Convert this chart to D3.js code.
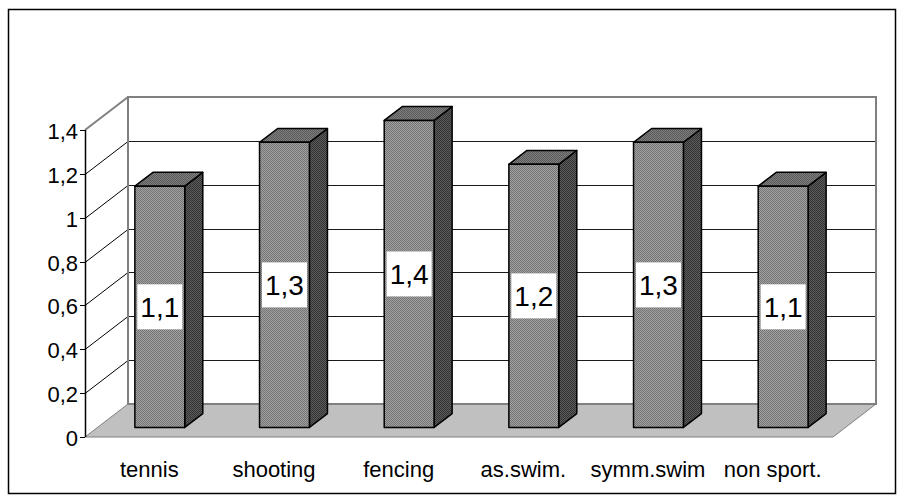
<!DOCTYPE html>
<html>
<head>
<meta charset="utf-8">
<script src="https://cdn.jsdelivr.net/npm/d3@7"></script>
<style>
  html, body { margin: 0; padding: 0; background: #fff; }
  svg { display: block; }
  text { font-family: Arial, "Liberation Sans", sans-serif; fill: #000; }
</style>
</head>
<body>
<svg id="chart" width="907" height="501"></svg>
<script>
// Chart data
const categories = ["tennis", "shooting", "fencing", "as.swim.", "symm.swim", "non sport."];
const values = [1.1, 1.3, 1.4, 1.2, 1.3, 1.1];
const yTicks = [0, 0.2, 0.4, 0.6, 0.8, 1, 1.2, 1.4];
const yTickLabels = ["0", "0,2", "0,4", "0,6", "0,8", "1", "1,2", "1,4"];
const valueLabels = ["1,1", "1,3", "1,4", "1,2", "1,3", "1,1"];

const svg = d3.select("#chart");

// Front plane of the 3D box and the depth offset toward the back wall
const front = { left: 85, right: 833, bottom: 437, top: 130 };
const DX = 43, DY = -33;
const barDepth0 = 0.29, barDepth1 = 0.71;

const y = d3.scaleLinear().domain([0, 1.4]).range([front.bottom, front.top]);
const x = d3.scaleBand().domain(categories)
  .range([front.left, front.right])
  .paddingInner(0.6).paddingOuter(0.3);

// Fill patterns for the bar faces
const defs = svg.append("defs");
function checker(id, a, b) {
  const p = defs.append("pattern").attr("id", id)
    .attr("patternUnits", "userSpaceOnUse").attr("width", 2).attr("height", 2);
  p.append("rect").attr("width", 2).attr("height", 2).attr("fill", a);
  p.append("rect").attr("width", 1).attr("height", 1).attr("fill", b);
  p.append("rect").attr("x", 1).attr("y", 1).attr("width", 1).attr("height", 1).attr("fill", b);
}
checker("pFront", "#a2a2a2", "#747474");
checker("pSide", "#5c5c5c", "#333333");
checker("pTop", "#7e7e7e", "#5a5a5a");

// Outer frame
svg.append("rect").attr("x", 8.5).attr("y", 9.5).attr("width", 887).attr("height", 484)
  .attr("fill", "#fff").attr("stroke", "#000").attr("stroke-width", 1.5);

const pt = (px, py) => px + "," + py;

// Floor
const y0 = y(0);
svg.append("polygon")
  .attr("points", [pt(front.left, y0), pt(front.right, y0),
                   pt(front.right + DX, y0 + DY), pt(front.left + DX, y0 + DY)].join(" "))
  .attr("fill", "#c0c0c0").attr("stroke", "#808080").attr("stroke-width", 1);

// Back wall gridlines and left wall diagonals
const grid = svg.append("g");
yTicks.forEach(t => {
  const yy = Math.round(y(t)) + 0.5;
  if (t > 0 && t < 1.4) {
    grid.append("line")
      .attr("x1", front.left + DX).attr("x2", front.right + DX)
      .attr("y1", yy + DY).attr("y2", yy + DY)
      .attr("stroke", "#1a1a1a").attr("stroke-width", 1);
    grid.append("line")
      .attr("x1", front.left).attr("y1", yy)
      .attr("x2", front.left + DX).attr("y2", yy + DY)
      .attr("stroke", "#000").attr("stroke-width", 1);
  }
});

// Wall outlines
svg.append("rect")
  .attr("x", front.left + DX).attr("y", y(1.4) + DY)
  .attr("width", front.right - front.left).attr("height", y(0) - y(1.4))
  .attr("fill", "none").attr("stroke", "#808080").attr("stroke-width", 2);
svg.append("line")
  .attr("x1", front.left).attr("y1", y(1.4))
  .attr("x2", front.left + DX).attr("y2", y(1.4) + DY)
  .attr("stroke", "#808080").attr("stroke-width", 2);

// Value axis
const axis = svg.append("g");
axis.append("line")
  .attr("x1", front.left + 0.5).attr("x2", front.left + 0.5)
  .attr("y1", y(1.4)).attr("y2", y(0))
  .attr("stroke", "#000").attr("stroke-width", 1.5);
yTicks.forEach((t, i) => {
  const yy = Math.round(y(t)) + 0.5;
  axis.append("line")
    .attr("x1", front.left - 5).attr("x2", front.left)
    .attr("y1", yy).attr("y2", yy)
    .attr("stroke", "#000").attr("stroke-width", 1);
  axis.append("text")
    .attr("x", front.left - 7).attr("y", yy + 8)
    .attr("text-anchor", "end").attr("font-size", 22)
    .text(yTickLabels[i]);
});

// Bars
const bars = svg.append("g");
categories.forEach((c, i) => {
  const ox = DX * barDepth0, oy = DY * barDepth0;
  const bx = DX * (barDepth1 - barDepth0), by = DY * (barDepth1 - barDepth0);
  const xl = x(c) + ox, xr = x(c) + x.bandwidth() + ox;
  const yb = y(0) + oy, yt = y(values[i]) + oy;
  const g = bars.append("g")
    .attr("stroke", "#000").attr("stroke-width", 1.5).attr("stroke-linejoin", "round");
  g.append("polygon")
    .attr("points", [pt(xr, yb), pt(xr, yt), pt(xr + bx, yt + by), pt(xr + bx, yb + by)].join(" "))
    .attr("fill", "url(#pSide)");
  g.append("polygon")
    .attr("points", [pt(xl, yt), pt(xr, yt), pt(xr + bx, yt + by), pt(xl + bx, yt + by)].join(" "))
    .attr("fill", "url(#pTop)");
  g.append("rect")
    .attr("x", xl).attr("y", yt).attr("width", xr - xl).attr("height", yb - yt)
    .attr("fill", "url(#pFront)");

  // Value label in a white box at the middle of the front face
  const cx = (xl + xr) / 2, cy = (yt + yb) / 2;
  bars.append("rect")
    .attr("x", cx - 22.5).attr("y", cy - 22.5).attr("width", 45).attr("height", 45)
    .attr("fill", "#fff");
  bars.append("text")
    .attr("x", cx).attr("y", cy + 10)
    .attr("text-anchor", "middle").attr("font-size", 28)
    .text(valueLabels[i]);
});

// Category labels
svg.append("g").selectAll("text").data(categories).join("text")
  .attr("x", d => x(d) + x.bandwidth() / 2 + 2)
  .attr("y", 477)
  .attr("text-anchor", "middle").attr("font-size", 22)
  .text(d => d);
</script>
</body>
</html>
